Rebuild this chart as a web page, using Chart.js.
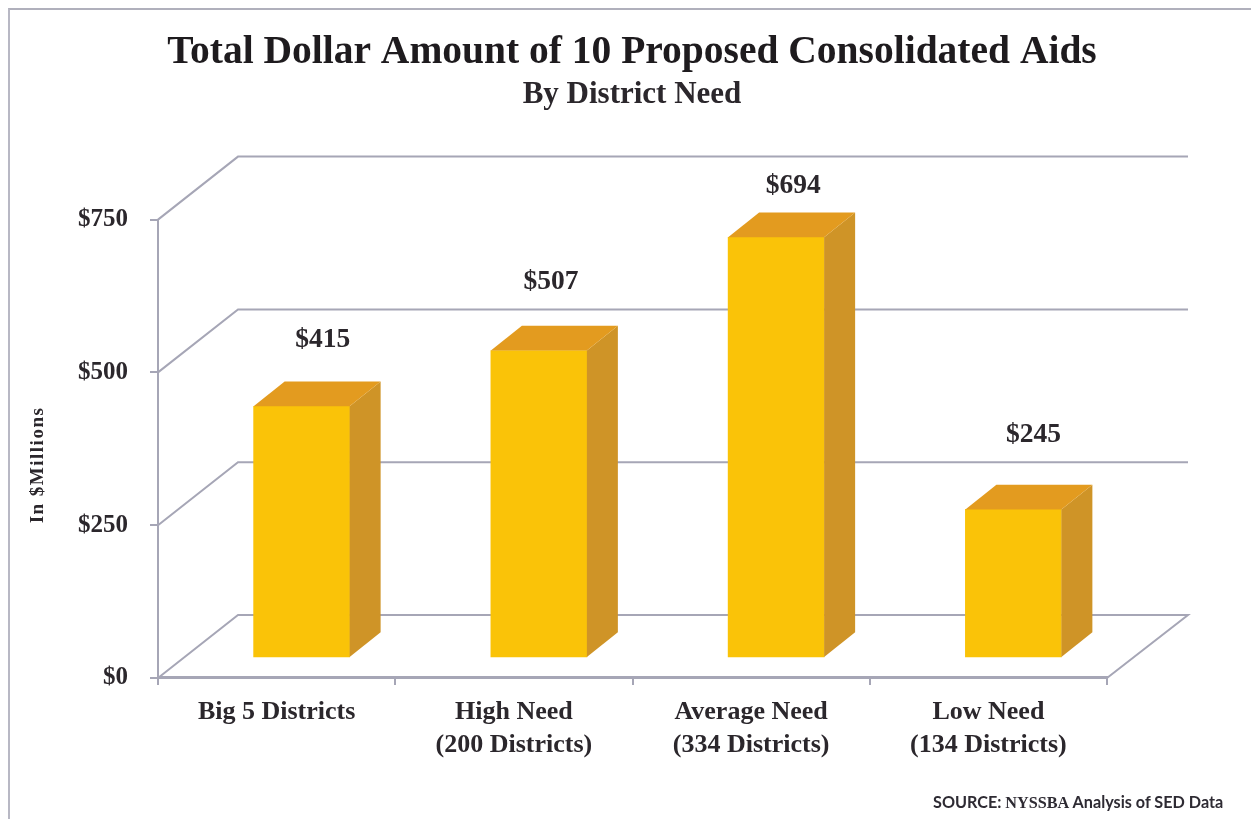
<!DOCTYPE html>
<html>
<head>
<meta charset="utf-8">
<title>Total Dollar Amount of 10 Proposed Consolidated Aids</title>
<script src="https://cdn.jsdelivr.net/npm/chart.js@4"></script>
<style>
    html, body { margin: 0; padding: 0; background: #fff; overflow: hidden; }
    #wrap { position: relative; width: 1251px; height: 819px; }
    #frame { position: absolute; left: 8px; top: 8px; right: 0; bottom: 0; border-top: 2px solid #b0b0bc; border-left: 2px solid #b8b8c4; }
    #source { position: absolute; left: 933px; top: 792px; font: bold 16.2px Lato, sans-serif; color: #2e2b33; white-space: nowrap; }
    #source b { font-family: "Liberation Serif", serif; }
    canvas { position: absolute; left: 0; top: 0; }
</style>
</head>
<body>
<div id="wrap">
    <div id="frame"></div>
    <canvas id="aidchart" width="1251" height="819"></canvas>
    <div id="source">SOURCE: <b>NYSSBA</b> Analysis of SED Data</div>
</div>
<script>
// data
const categories = [["Big 5 Districts"], ["High Need", "(200 Districts)"], ["Average Need", "(334 Districts)"], ["Low Need", "(134 Districts)"]];
const aidMillions = [415, 507, 694, 245];
const yTicks = [0, 250, 500, 750];

const serif = "'Liberation Serif', serif";
const inkColor = "#2b272c";
const gridColor = "#a6a6b6";

// the fake 3D look
const wallDx = 80, wallDy = 63;       // back wall offset from the front axes
const barDx = 25, barDy = 20;         // bars stand a bit inside the floor
const barSquash = 0.992;
const depthX = 31, depthY = 25;       // depth of a bar
const labelNudge = [[21, -64], [12, -66], [17, -48], [20, -73]];

function moveToFloor(chart) {
    // shifts the bars off the front axis onto the floor
    const ctx = chart.ctx;
    const base = chart.scales.y.getPixelForValue(0);
    ctx.translate(barDx, base - barDy);
    ctx.scale(1, barSquash);
    ctx.translate(0, -base);
}

function face(ctx, color, points) {
    ctx.fillStyle = color;
    ctx.beginPath();
    points.forEach(function (p, i) {
        if (i == 0) ctx.moveTo(p[0], p[1]);
        else ctx.lineTo(p[0], p[1]);
    });
    ctx.closePath();
    ctx.fill();
}

const walls = {
    id: "walls",
    beforeDatasetsDraw(chart) {
        // back wall, side wall and floor lines
        const ctx = chart.ctx, area = chart.chartArea, y = chart.scales.y;
        ctx.save();
        ctx.strokeStyle = gridColor;
        ctx.lineWidth = 2;
        yTicks.forEach(function (v) {
            const py = y.getPixelForValue(v);
            ctx.beginPath();
            ctx.moveTo(area.left, py);
            ctx.lineTo(area.left + wallDx, py - wallDy);
            ctx.lineTo(area.right + wallDx + 1, py - wallDy);
            if (v == 0) ctx.lineTo(area.right, py);
            ctx.stroke();
        });
        ctx.restore();
        // bars are drawn by the library inside this transform
        ctx.save();
        moveToFloor(chart);
    },
    afterDatasetsDraw(chart) {
        const ctx = chart.ctx;
        const bars = chart.getDatasetMeta(0).data;
        bars.forEach(function (bar) {
            const left = bar.x - bar.width / 2, right = bar.x + bar.width / 2;
            face(ctx, "#cf9427", [[right, bar.y], [right + depthX, bar.y - depthY], [right + depthX, bar.base - depthY], [right, bar.base]]);
            face(ctx, "#e39b1f", [[left, bar.y], [left + depthX, bar.y - depthY], [right + depthX, bar.y - depthY], [right, bar.y]]);
        });
        ctx.restore();
        // value labels
        ctx.save();
        ctx.fillStyle = inkColor;
        ctx.font = "bold 27.5px " + serif;
        ctx.textAlign = "center";
        ctx.textBaseline = "middle";
        bars.forEach(function (bar, i) {
            ctx.fillText("$" + aidMillions[i], bar.x + barDx + labelNudge[i][0], bar.y - barDy + labelNudge[i][1]);
        });
        // axis title, sits lower than the centre of the axis
        ctx.font = "bold 19px " + serif;
        ctx.letterSpacing = "1.5px";
        ctx.translate(38, 465);
        ctx.rotate(-Math.PI / 2);
        ctx.fillText("In $Millions", 0, 0);
        ctx.restore();
    }
};

function main() {
    new Chart(document.getElementById("aidchart"), {
        type: "bar",
        data: {
            labels: categories,
            datasets: [{
                data: aidMillions,
                backgroundColor: "#fac308",
                barThickness: 96
            }]
        },
        options: {
            responsive: false,
            animation: false,
            layout: { padding: { left: 13, right: 0, top: 29, bottom: 46 } },
            plugins: {
                legend: { display: false },
                tooltip: { enabled: false },
                title: {
                    display: true,
                    text: "Total Dollar Amount of 10 Proposed Consolidated Aids",
                    color: "#1e1b1e",
                    font: { family: serif, size: 39.5, weight: "bold" },
                    padding: { top: 0, bottom: 0 }
                },
                subtitle: {
                    display: true,
                    text: "By District Need",
                    color: inkColor,
                    font: { family: serif, size: 31, weight: "bold" },
                    padding: { top: 0, bottom: 106 }
                }
            },
            scales: {
                x: {
                    grid: { drawOnChartArea: false, color: gridColor, tickLength: 7, lineWidth: 2 },
                    border: { color: gridColor, width: 3 },
                    ticks: {
                        color: inkColor,
                        padding: 11,
                        maxRotation: 0,
                        font: { family: serif, size: 26, weight: "bold", lineHeight: 1.27 }
                    }
                },
                y: {
                    min: yTicks[0],
                    max: yTicks[yTicks.length - 1],
                    afterFit(scale) { scale.width = 145; },
                    grid: { drawOnChartArea: false, color: gridColor, tickLength: 8, lineWidth: 2 },
                    border: { color: gridColor, width: 2 },
                    ticks: {
                        stepSize: 250,
                        color: inkColor,
                        padding: 22,
                        callback: function (v) { return "$" + v; },
                        font: { family: serif, size: 25, weight: "bold" }
                    }
                },
                // empty axis, only holds the space right of the plot
                spacer: {
                    position: "right",
                    afterFit(scale) { scale.width = 144; },
                    grid: { display: false },
                    border: { display: false },
                    ticks: { display: false }
                }
            }
        },
        plugins: [walls]
    });
}

main();
</script>
</body>
</html>
